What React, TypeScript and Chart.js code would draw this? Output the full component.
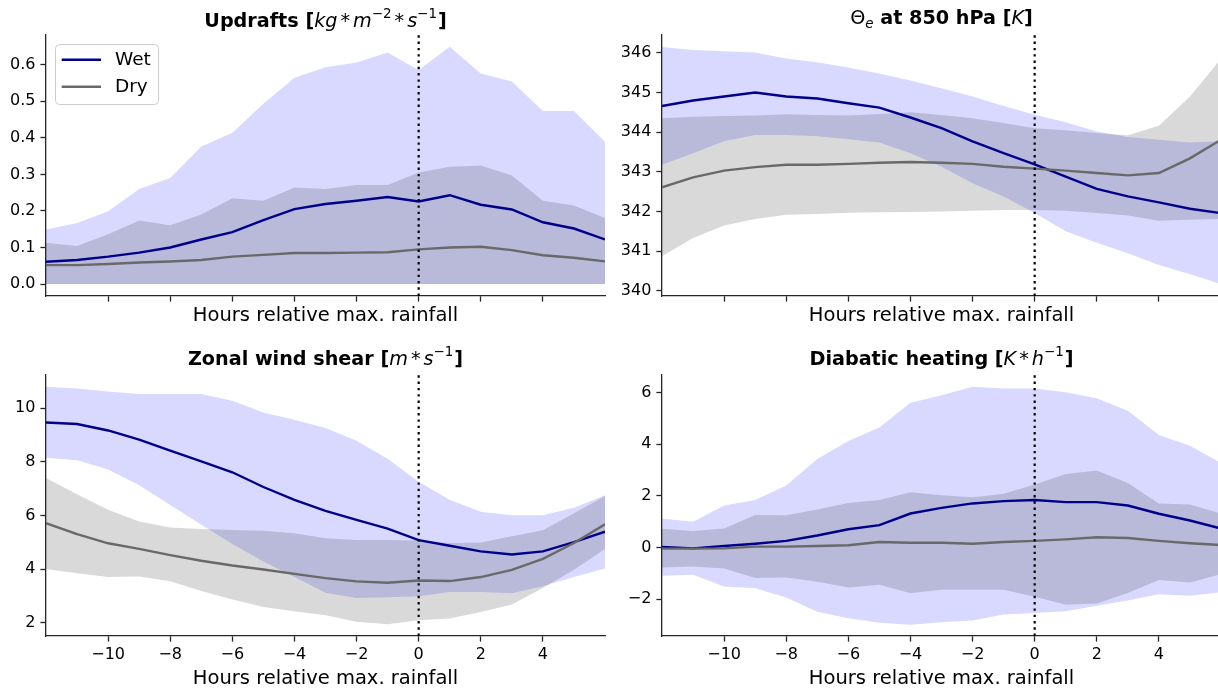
import React, { useEffect, useRef } from "react";
import { Chart, registerables } from "chart.js";

Chart.register(...registerables);

// ---------------- data ----------------
const HOURS = [-12, -11, -10, -9, -8, -7, -6, -5, -4, -3, -2, -1, 0, 1, 2, 3, 4, 5, 6];
const HOUR_TICKS = [-10, -8, -6, -4, -2, 0, 2, 4];
const X_LIMITS = [-12, 6];
const X_LABEL = "Hours relative max. rainfall";
const SERIES_NAMES = ["Wet", "Dry"];

// Updrafts
const UPD_WET_MEAN = [0.061, 0.066, 0.075, 0.086, 0.1, 0.122, 0.142, 0.175, 0.205, 0.219, 0.228, 0.238, 0.226, 0.243, 0.217, 0.204, 0.169, 0.152, 0.122];
const UPD_WET_HI = [0.149, 0.167, 0.199, 0.26, 0.29, 0.376, 0.414, 0.493, 0.564, 0.593, 0.606, 0.633, 0.585, 0.649, 0.576, 0.554, 0.473, 0.473, 0.389];
const UPD_WET_LO = [0, 0, 0, 0, 0, 0, 0, 0, 0, 0, 0, 0, 0, 0, 0, 0, 0, 0, 0];
const UPD_DRY_MEAN = [0.052, 0.052, 0.055, 0.059, 0.062, 0.066, 0.075, 0.08, 0.085, 0.085, 0.086, 0.087, 0.095, 0.1, 0.102, 0.093, 0.079, 0.072, 0.062];
const UPD_DRY_HI = [0.113, 0.104, 0.136, 0.174, 0.161, 0.19, 0.235, 0.228, 0.264, 0.26, 0.271, 0.271, 0.305, 0.321, 0.324, 0.297, 0.228, 0.215, 0.181];
const UPD_DRY_LO = [0, 0, 0, 0, 0, 0, 0, 0, 0, 0, 0, 0, 0, 0, 0, 0, 0, 0, 0];
const UPD_TICKS = [0, 0.1, 0.2, 0.3, 0.4, 0.5, 0.6];
const UPD_LIMITS = [-0.0325, 0.681];

// Theta-e at 850 hPa
const THE_WET_MEAN = [344.66, 344.8, 344.9, 345.0, 344.9, 344.85, 344.73, 344.62, 344.37, 344.1, 343.77, 343.47, 343.19, 342.88, 342.57, 342.38, 342.23, 342.07, 341.96];
const THE_WET_HI = [346.15, 346.07, 346.04, 346.01, 345.86, 345.76, 345.63, 345.48, 345.3, 345.11, 344.9, 344.66, 344.44, 344.25, 344.02, 343.88, 343.81, 343.74, 343.77];
const THE_WET_LO = [343.18, 343.47, 343.77, 343.93, 343.93, 343.9, 343.82, 343.74, 343.47, 343.13, 342.71, 342.38, 341.96, 341.5, 341.21, 340.95, 340.65, 340.42, 340.17];
const THE_DRY_MEAN = [342.61, 342.86, 343.03, 343.12, 343.18, 343.18, 343.2, 343.23, 343.25, 343.23, 343.2, 343.13, 343.08, 343.03, 342.97, 342.91, 342.97, 343.34, 343.81];
const THE_DRY_HI = [344.35, 344.39, 344.41, 344.42, 344.45, 344.43, 344.42, 344.46, 344.5, 344.43, 344.35, 344.23, 344.1, 344.05, 343.98, 343.92, 344.16, 344.9, 345.85];
const THE_DRY_LO = [340.87, 341.33, 341.65, 341.81, 341.92, 341.94, 341.97, 341.98, 341.99, 342.0, 342.02, 342.04, 342.04, 342.02, 341.96, 341.9, 341.77, 341.79, 341.81];
const THE_TICKS = [340, 341, 342, 343, 344, 345, 346];
const THE_LIMITS = [339.87, 346.45];

// Zonal wind shear
const SHR_WET_MEAN = [9.47, 9.41, 9.17, 8.83, 8.42, 8.02, 7.61, 7.06, 6.58, 6.17, 5.83, 5.51, 5.08, 4.87, 4.66, 4.54, 4.66, 5.0, 5.39];
const SHR_WET_HI = [10.8, 10.74, 10.62, 10.53, 10.53, 10.53, 10.28, 9.84, 9.57, 9.26, 8.79, 8.11, 7.26, 6.58, 6.14, 6.01, 6.01, 6.29, 6.75];
const SHR_WET_LO = [8.15, 8.06, 7.71, 7.13, 6.39, 5.65, 4.93, 4.28, 3.7, 3.11, 2.92, 2.95, 2.98, 3.14, 3.14, 3.1, 3.36, 3.7, 4.02];
const SHR_DRY_MEAN = [5.71, 5.3, 4.96, 4.75, 4.52, 4.31, 4.13, 3.98, 3.82, 3.66, 3.54, 3.49, 3.57, 3.55, 3.7, 3.97, 4.38, 4.97, 5.67];
const SHR_DRY_HI = [7.4, 6.79, 6.21, 5.77, 5.55, 5.49, 5.46, 5.43, 5.33, 5.15, 5.08, 5.08, 5.06, 4.97, 4.99, 5.22, 5.45, 6.08, 6.72];
const SHR_DRY_LO = [4.0, 3.84, 3.7, 3.72, 3.54, 3.18, 2.86, 2.58, 2.42, 2.27, 2.03, 1.94, 2.09, 2.15, 2.4, 2.68, 3.29, 3.97, 4.75];
const SHR_TICKS = [2, 4, 6, 8, 10];
const SHR_LIMITS = [1.5, 11.24];

// Diabatic heating
const DIA_WET_MEAN = [0.03, -0.03, 0.06, 0.15, 0.26, 0.47, 0.71, 0.87, 1.32, 1.54, 1.71, 1.8, 1.84, 1.76, 1.76, 1.63, 1.31, 1.05, 0.74];
const DIA_WET_HI = [1.13, 1.0, 1.63, 1.84, 2.4, 3.43, 4.13, 4.65, 5.61, 5.9, 6.23, 6.16, 6.16, 6.01, 5.78, 5.3, 4.36, 3.94, 3.27];
const DIA_WET_LO = [-1.09, -1.05, -1.5, -1.57, -1.93, -2.48, -2.73, -2.91, -2.98, -2.89, -2.82, -2.59, -2.53, -2.46, -2.25, -2.05, -1.8, -1.86, -1.73];
const DIA_DRY_MEAN = [-0.04, -0.04, -0.03, 0.04, 0.04, 0.06, 0.09, 0.22, 0.19, 0.19, 0.15, 0.22, 0.26, 0.32, 0.4, 0.37, 0.26, 0.17, 0.1];
const DIA_DRY_HI = [0.73, 0.64, 0.74, 1.26, 1.25, 1.48, 1.73, 1.84, 2.14, 2.03, 1.95, 2.08, 2.44, 2.85, 2.98, 2.5, 1.71, 1.67, 1.32];
const DIA_DRY_LO = [-0.77, -0.73, -0.81, -1.18, -1.16, -1.32, -1.54, -1.44, -1.77, -1.63, -1.63, -1.63, -1.9, -2.21, -2.16, -1.76, -1.25, -1.35, -1.03];
const DIA_TICKS = [-2, 0, 2, 4, 6];
const DIA_LIMITS = [-3.42, 6.68];

// ---------------- styles ----------------
const FONT = "'DejaVu Sans', 'Liberation Sans', sans-serif";
const WET_LINE = "#00008b";
const DRY_LINE = "#696969";
const WET_FILL = "rgba(0,0,255,0.15)";
const DRY_FILL = "rgba(0,0,0,0.15)";
const AXIS_COLOR = "#262626";
const TICK_FONT = 16;
const LABEL_FONT = 19.5;
const TITLE_FONT = 19.2;
const LEGEND_FONT = 18.5;

type Run = { t: string; s: "b" | "i" | "r"; k?: number; dy?: number; gap?: number };

const SUP = { s: "r" as const, k: 0.7, dy: -0.45 };
const STAR: Run = { t: "*", s: "r", gap: 3 };
const TITLE_UPD: Run[] = [
  { t: "Updrafts [", s: "b" },
  { t: "kg", s: "i" },
  STAR,
  { t: "m", s: "i", gap: 3 },
  { t: "\u22122", ...SUP },
  STAR,
  { t: "s", s: "i", gap: 3 },
  { t: "\u22121", ...SUP },
  { t: "]", s: "b", gap: 1 },
];
const TITLE_THE: Run[] = [
  { t: "\u0398", s: "r" },
  { t: "e", s: "i", k: 0.7, dy: 0.2 },
  { t: " at 850 hPa [", s: "b" },
  { t: "K", s: "i" },
  { t: "]", s: "b" },
];
const TITLE_SHR: Run[] = [
  { t: "Zonal wind shear [", s: "b" },
  { t: "m", s: "i" },
  STAR,
  { t: "s", s: "i", gap: 3 },
  { t: "\u22121", ...SUP },
  { t: "]", s: "b", gap: 1 },
];
const TITLE_DIA: Run[] = [
  { t: "Diabatic heating [", s: "b" },
  { t: "K", s: "i" },
  STAR,
  { t: "h", s: "i", gap: 3 },
  { t: "\u22121", ...SUP },
  { t: "]", s: "b", gap: 1 },
];

type Panel = {
  title: Run[];
  titleDy: number;
  left: number;
  top: number;
  width: number;
  height: number;
  yAxisWidth: number;
  xAxisHeight: number;
  padRight: number;
  padTop: number;
  xTitlePad: number;
  xTickLabels: boolean;
  legend: boolean;
  yLimits: number[];
  yTicks: number[];
  yDigits: number;
  wet: number[][];
  dry: number[][];
};

const PANELS: Panel[] = [
  {
    title: TITLE_UPD, titleDy: -8.5, left: 0, top: 0, width: 610, height: 340,
    yAxisWidth: 46, xAxisHeight: 44, padRight: 5, padTop: 35, xTitlePad: 12.6,
    xTickLabels: false, legend: true, yLimits: UPD_LIMITS, yTicks: UPD_TICKS, yDigits: 1,
    wet: [UPD_WET_MEAN, UPD_WET_HI, UPD_WET_LO], dry: [UPD_DRY_MEAN, UPD_DRY_HI, UPD_DRY_LO],
  },
  {
    title: TITLE_THE, titleDy: -11, left: 610, top: 0, width: 611, height: 340,
    yAxisWidth: 52, xAxisHeight: 44, padRight: 0, padTop: 35, xTitlePad: 12.6,
    xTickLabels: false, legend: false, yLimits: THE_LIMITS, yTicks: THE_TICKS, yDigits: 0,
    wet: [THE_WET_MEAN, THE_WET_HI, THE_WET_LO], dry: [THE_DRY_MEAN, THE_DRY_HI, THE_DRY_LO],
  },
  {
    title: TITLE_SHR, titleDy: -10.5, left: 0, top: 340, width: 610, height: 360,
    yAxisWidth: 46, xAxisHeight: 64, padRight: 5, padTop: 35, xTitlePad: 9.7,
    xTickLabels: true, legend: false, yLimits: SHR_LIMITS, yTicks: SHR_TICKS, yDigits: 0,
    wet: [SHR_WET_MEAN, SHR_WET_HI, SHR_WET_LO], dry: [SHR_DRY_MEAN, SHR_DRY_HI, SHR_DRY_LO],
  },
  {
    title: TITLE_DIA, titleDy: -10.5, left: 610, top: 340, width: 611, height: 360,
    yAxisWidth: 52, xAxisHeight: 64, padRight: 0, padTop: 35, xTitlePad: 9.7,
    xTickLabels: true, legend: false, yLimits: DIA_LIMITS, yTicks: DIA_TICKS, yDigits: 0,
    wet: [DIA_WET_MEAN, DIA_WET_HI, DIA_WET_LO], dry: [DIA_DRY_MEAN, DIA_DRY_HI, DIA_DRY_LO],
  },
];

function fmt(v: number, digits: number): string {
  const s = Math.abs(v).toFixed(digits);
  return v < -1e-9 ? "\u2212" + s : s;
}

function pts(ys: number[]) {
  return HOURS.map((h, i) => ({ x: h, y: ys[i] }));
}

function drawRich(ctx: CanvasRenderingContext2D, runs: Run[], cx: number, baseline: number, size: number) {
  const fontFor = (r: Run) =>
    `${r.s === "i" ? "italic " : ""}${r.s === "b" ? "bold " : ""}${(size * (r.k ?? 1)).toFixed(2)}px ${FONT}`;
  let total = 0;
  const widths = runs.map((r) => {
    ctx.font = fontFor(r);
    const w = ctx.measureText(r.t).width;
    total += w + (r.gap ?? 0);
    return w;
  });
  let x = cx - total / 2;
  ctx.fillStyle = "#000";
  ctx.textAlign = "left";
  ctx.textBaseline = "alphabetic";
  runs.forEach((r, i) => {
    x += r.gap ?? 0;
    ctx.font = fontFor(r);
    ctx.fillText(r.t, x, baseline + (r.dy ?? 0) * size);
    x += widths[i];
  });
}

function makePlugin(p: Panel) {
  return {
    id: "decor",
    afterDatasetsDraw(chart: any) {
      const { ctx, chartArea, scales } = chart;
      const x0 = scales.x.getPixelForValue(0);
      ctx.save();
      ctx.strokeStyle = "#000";
      ctx.lineWidth = 2.2;
      ctx.setLineDash([2.4, 3.9]);
      ctx.beginPath();
      ctx.moveTo(x0, chartArea.bottom);
      ctx.lineTo(x0, chartArea.top);
      ctx.stroke();
      ctx.restore();
    },
    afterDraw(chart: any) {
      const { ctx, chartArea } = chart;
      ctx.save();
      drawRich(ctx, p.title, (chartArea.left + chartArea.right) / 2, chartArea.top + p.titleDy, TITLE_FONT);
      if (p.legend) {
        const lx = chartArea.left + 9;
        const ly = chartArea.top + 9;
        ctx.beginPath();
        (ctx as any).roundRect(lx + 0.5, ly + 0.5, 103, 60, 4);
        ctx.fillStyle = "rgba(255,255,255,0.8)";
        ctx.fill();
        ctx.strokeStyle = "#cccccc";
        ctx.lineWidth = 1;
        ctx.stroke();
        const colors = [WET_LINE, DRY_LINE];
        SERIES_NAMES.forEach((name, i) => {
          const y = ly + 15.7 + i * 27;
          ctx.strokeStyle = colors[i];
          ctx.lineWidth = 2.4;
          ctx.beginPath();
          ctx.moveTo(lx + 6.7, y);
          ctx.lineTo(lx + 46, y);
          ctx.stroke();
          ctx.fillStyle = "#000";
          ctx.font = `${LEGEND_FONT}px ${FONT}`;
          ctx.textAlign = "left";
          ctx.textBaseline = "middle";
          ctx.fillText(name, lx + 60, y);
        });
      }
      ctx.restore();
    },
  };
}

function PanelChart({ p }: { p: Panel }) {
  const ref = useRef<HTMLCanvasElement | null>(null);
  useEffect(() => {
    if (!ref.current) return;
    const lineDs = (label: string, ys: number[], color: string) => ({
      label,
      data: pts(ys),
      borderColor: color,
      borderWidth: 2.4,
      pointRadius: 0,
      fill: false,
      tension: 0,
    });
    const bandDs = (ys: number[], color: string, fill: any) => ({
      label: "",
      data: pts(ys),
      borderWidth: 0,
      borderColor: "rgba(0,0,0,0)",
      backgroundColor: color,
      pointRadius: 0,
      fill,
      tension: 0,
    });
    const tickFont = { family: FONT, size: TICK_FONT };
    const chart = new Chart(ref.current, {
      type: "line",
      data: {
        datasets: [
          lineDs(SERIES_NAMES[1], p.dry[0], DRY_LINE),
          lineDs(SERIES_NAMES[0], p.wet[0], WET_LINE),
          bandDs(p.dry[1], DRY_FILL, "+1"),
          bandDs(p.dry[2], DRY_FILL, false),
          bandDs(p.wet[1], WET_FILL, "+1"),
          bandDs(p.wet[2], WET_FILL, false),
        ] as any,
      },
      options: {
        responsive: false,
        animation: false,
        devicePixelRatio: 1,
        events: [],
        layout: { padding: { left: 0, right: p.padRight, top: p.padTop, bottom: 0 } },
        plugins: {
          legend: { display: false },
          title: { display: false },
          tooltip: { enabled: false },
        },
        scales: {
          x: {
            type: "linear",
            min: X_LIMITS[0],
            max: X_LIMITS[1],
            afterBuildTicks: (s: any) => {
              s.ticks = HOUR_TICKS.map((v) => ({ value: v }));
            },
            afterFit: (s: any) => {
              s.height = p.xAxisHeight;
            },
            grid: {
              display: true,
              drawOnChartArea: false,
              drawTicks: true,
              tickLength: 5.6,
              tickWidth: 1.3,
              tickColor: AXIS_COLOR,
            },
            border: { display: true, color: AXIS_COLOR, width: 1.3 },
            ticks: {
              padding: 4,
              font: tickFont,
              color: "#000",
              maxRotation: 0,
              autoSkip: false,
              callback: (v: any) => (p.xTickLabels ? fmt(Number(v), 0) : ""),
            },
            title: {
              display: true,
              text: X_LABEL,
              color: "#000",
              font: { family: FONT, size: LABEL_FONT },
              padding: { top: 0, bottom: p.xTitlePad },
            },
          },
          y: {
            type: "linear",
            min: p.yLimits[0],
            max: p.yLimits[1],
            afterBuildTicks: (s: any) => {
              s.ticks = p.yTicks.map((v) => ({ value: v }));
            },
            afterFit: (s: any) => {
              s.width = p.yAxisWidth;
            },
            grid: {
              display: true,
              drawOnChartArea: false,
              drawTicks: true,
              tickLength: 5.6,
              tickWidth: 1.3,
              tickColor: AXIS_COLOR,
            },
            border: { display: true, color: AXIS_COLOR, width: 1.3 },
            ticks: {
              padding: 5,
              font: tickFont,
              color: "#000",
              autoSkip: false,
              callback: (v: any) => fmt(Number(v), p.yDigits),
            },
          },
        },
      } as any,
      plugins: [makePlugin(p)],
    });
    return () => chart.destroy();
  }, [p]);
  return (
    <canvas
      ref={ref}
      width={p.width}
      height={p.height}
      style={{ position: "absolute", left: p.left, top: p.top, width: p.width, height: p.height }}
    />
  );
}

export default function App() {
  return (
    <div
      style={{
        position: "fixed",
        left: 0,
        top: 0,
        width: 1218,
        height: 689,
        overflow: "hidden",
        background: "#ffffff",
      }}
    >
      {PANELS.map((p, i) => (
        <PanelChart key={i} p={p} />
      ))}
    </div>
  );
}
